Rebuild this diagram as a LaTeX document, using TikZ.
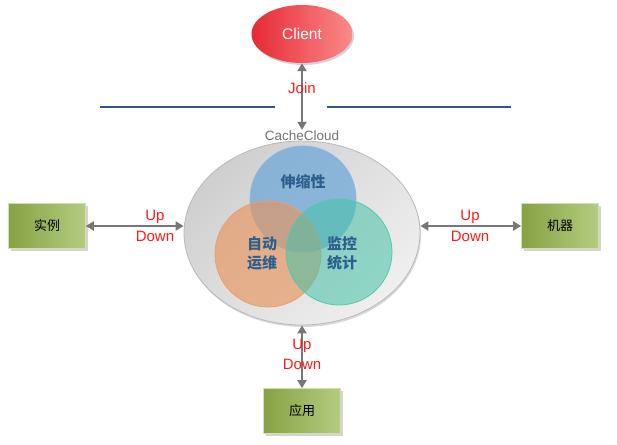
\documentclass[tikz,border=0pt]{standalone}
\usepackage{fontspec}
\setmainfont{Liberation Sans}
\newfontfamily\cjk{Noto Sans CJK SC}
\usetikzlibrary{shapes.geometric,shadows,arrows.meta}
\definecolor{redA}{HTML}{E52A35}
\definecolor{redB}{HTML}{FA8A8A}
\definecolor{grnA}{HTML}{86A243}
\definecolor{grnB}{HTML}{B3CC80}
\definecolor{arrgray}{HTML}{777777}
\definecolor{lineblue}{HTML}{2F5597}
\definecolor{txtblue}{HTML}{2E5E8E}
\definecolor{upred}{HTML}{FF1A1A}
\definecolor{cblue}{HTML}{6FA8D8}
\definecolor{corange}{HTML}{E8955E}
\definecolor{cteal}{HTML}{44C2A6}
\definecolor{cloudA}{HTML}{CFCFCF}
\definecolor{cloudB}{HTML}{EFEFEF}
\tikzset{
  greenbox/.style={rectangle, minimum width=77pt, minimum height=45pt, left color=grnA, right color=grnB, draw=grnB!60!white, line width=0.6pt, drop shadow={shadow xshift=2pt, shadow yshift=-2pt, opacity=0.35}, font=\cjk\fontsize{13}{13}\selectfont, text=black},
  conn/.style={{Triangle[length=8pt,width=9pt]}-{Triangle[length=8pt,width=9pt]}, draw=arrgray, line width=2.4pt},
  lbl/.style={text=upred, font=\fontsize{15}{15}\selectfont, inner sep=0pt},
  venn/.style={circle, minimum size=106pt, inner sep=0pt, line width=0.8pt},
  venntxt/.style={text=txtblue, font=\cjk\bfseries\fontsize{15}{19}\selectfont, align=center, inner sep=0pt},
  sepline/.style={draw=lineblue, line width=1.6pt}
}
\begin{document}
\begin{tikzpicture}[x=1pt,y=-1pt]
\useasboundingbox (0,0) rectangle (617,444);
% separator lines
\coordinate (l1) at (100,107); \coordinate (l2) at (275,107);
\coordinate (r1) at (327,107); \coordinate (r2) at (511,107);
\draw[sepline] (l1) -- (l2);
\draw[sepline] (r1) -- (r2);
% client
\node[ellipse, minimum width=101pt, minimum height=58pt, left color=redA, right color=redB, draw=none, drop shadow={shadow xshift=1.5pt, shadow yshift=-2pt, opacity=0.35}, text=white, font=\fontsize{15.5}{15.5}\selectfont] (client) at (302,34) {Client};
% cloud
\node[ellipse, minimum width=236pt, minimum height=184pt, shading=axis, left color=cloudA, right color=cloudB, shading angle=45, draw=gray!55, line width=0.8pt, drop shadow={shadow xshift=1pt, shadow yshift=-2pt, opacity=0.3}] (cloud) at (302,233) {};
\node[text=gray!90!black, font=\fontsize{13.5}{13.5}\selectfont, inner sep=1pt] (cc) at (302,136) {CacheCloud};
% venn
\node[venn, fill=cblue, fill opacity=0.75, draw=cblue!80!white] (vb) at (303,199) {};
\node[venn, fill=corange, fill opacity=0.65, draw=corange!90!white] (vo) at (268,254) {};
\node[venn, fill=cteal, fill opacity=0.55, draw=cteal!90!white] (vt) at (339,252) {};
\node[venntxt] (tb) at (303,182) {伸缩性};
\node[venntxt] (to) at (262,253) {自动\\运维};
\node[venntxt] (tt) at (342,253) {监控\\统计};
% boxes
\node[greenbox] (shili) at (47,226) {实例};
\node[greenbox] (jiqi) at (560,226) {机器};
\node[greenbox] (yingyong) at (302,411) {应用};
% connectors
\draw[conn] (client.south) -- (cc.north);
\draw[conn] (shili.east) -- (shili.east -| cloud.west);
\draw[conn] (jiqi.west) -- (jiqi.west -| cloud.east);
\draw[conn] (yingyong.north) -- (cloud.south);
% labels
\node[lbl] (join) at (302,88) {Join};
\node[lbl] (lup) at (155,217) {Up};
\node[lbl] (ldn) at (155,236) {Down};
\node[lbl] (rup) at (470,217) {Up};
\node[lbl] (rdn) at (470,236) {Down};
\node[lbl] (bup) at (302,346) {Up};
\node[lbl] (bdn) at (302,364) {Down};
\end{tikzpicture}
\end{document}
